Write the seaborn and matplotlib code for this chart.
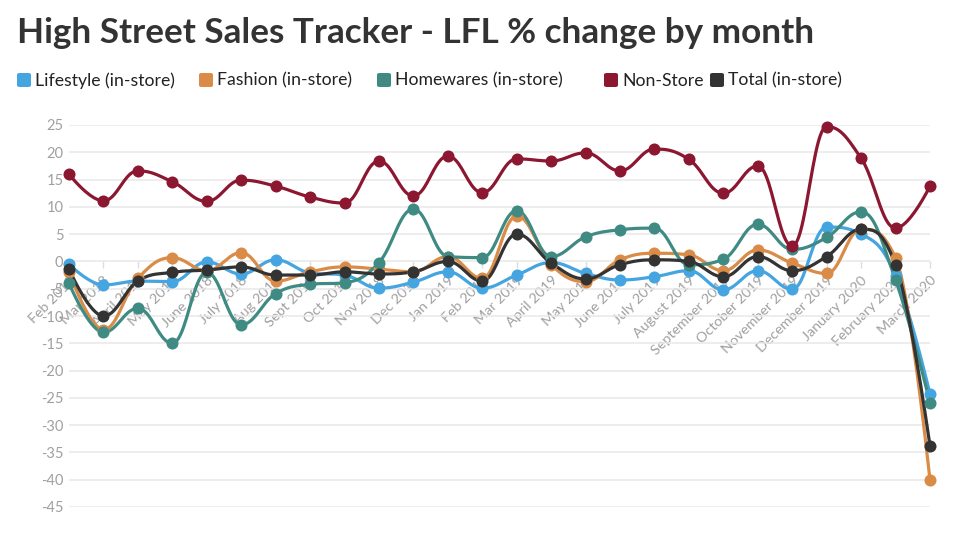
import numpy as np
import pandas as pd
import matplotlib
matplotlib.use("Agg")
import matplotlib.pyplot as plt
import seaborn as sns
from matplotlib.patches import FancyBboxPatch

months = ["Feb 2018", "Mar 2018", "April 2018", "May 2018", "June 2018", "July 2018",
          "Aug 2018", "Sept 2018", "Oct 2018", "Nov 2018", "Dec 2018", "Jan 2019",
          "Feb 2019", "Mar 2019", "April 2019", "May 2019", "June 2019", "July 2019",
          "August 2019", "September 2019", "October 2019", "November 2019",
          "December 2019", "January 2020", "February 2020", "March 2020"]

lifestyle = [-0.5, -4.3, -3.6, -3.7, -0.1, -2.3, 0.3, -2.1, -2.5, -4.9, -3.8, -1.9, -4.9,
             -2.5, -0.2, -2.2, -3.4, -2.8, -1.7, -5.2, -1.7, -5.1, 6.3, 5.0, -2.6, -24.3]
fashion = [-1.9, -12.5, -3.1, 0.7, -1.7, 1.6, -3.6, -1.9, -1.0, -1.4, -1.9, 0.9, -3.1,
           8.3, -0.6, -3.7, 0.3, 1.5, 1.2, -1.7, 2.1, -0.3, -2.2, 5.9, 0.7, -40.1]
homewares = [-4.0, -13.0, -8.6, -15.0, -2.0, -11.6, -5.9, -4.2, -3.9, -0.2, 9.6, 0.9, 0.7,
             9.3, 0.9, 4.5, 5.8, 6.1, -0.6, 0.4, 6.8, 2.2, 4.4, 9.1, -3.4, -25.9]
non_store = [16.0, 11.1, 16.6, 14.6, 11.0, 14.9, 13.8, 11.8, 10.7, 18.4, 12.0, 19.3, 12.6,
             18.8, 18.4, 19.9, 16.6, 20.6, 18.7, 12.5, 17.5, 2.8, 24.7, 18.9, 6.1, 13.8]
total = [-1.4, -10.0, -3.6, -2.0, -1.6, -1.0, -2.5, -2.5, -1.9, -2.3, -1.9, 0.0, -3.6,
         5.0, -0.3, -3.2, -0.6, 0.3, 0.0, -2.8, 0.9, -1.7, 0.9, 5.9, -0.6, -33.8]

series_names = ["Lifestyle (in-store)", "Fashion (in-store)", "Homewares (in-store)",
                "Non-Store", "Total (in-store)"]
series_values = [lifestyle, fashion, homewares, non_store, total]
colors = ["#45a5e0", "#d98b47", "#3f8b84", "#8b1730", "#333333"]
y_ticks = list(range(-45, 30, 5))


def hc_spline(xs, ys, smoothing=1.5, n=24):
    """Highcharts-style spline through the given points."""
    N = len(xs)
    lcx, lcy = list(xs), list(ys)
    rcx, rcy = list(xs), list(ys)
    denom = smoothing + 1
    for i in range(1, N - 1):
        lx, ly = xs[i - 1], ys[i - 1]
        nx, ny = xs[i + 1], ys[i + 1]
        px, py = xs[i], ys[i]
        lX = (smoothing * px + lx) / denom
        lY = (smoothing * py + ly) / denom
        rX = (smoothing * px + nx) / denom
        rY = (smoothing * py + ny) / denom
        if rX != lX:
            corr = ((rY - lY) * (rX - px)) / (rX - lX) + py - rY
            lY += corr
            rY += corr
        if lY > ly and lY > py:
            lY = max(ly, py); rY = 2 * py - lY
        elif lY < ly and lY < py:
            lY = min(ly, py); rY = 2 * py - lY
        if rY > ny and rY > py:
            rY = max(ny, py); lY = 2 * py - rY
        elif rY < ny and rY < py:
            rY = min(ny, py); lY = 2 * py - rY
        lcx[i], lcy[i], rcx[i], rcy[i] = lX, lY, rX, rY
    t = np.linspace(0, 1, n)[:, None]
    out = [np.array([[xs[0], ys[0]]])]
    for i in range(1, N):
        P0 = np.array([xs[i - 1], ys[i - 1]])
        P1 = np.array([rcx[i - 1], rcy[i - 1]])
        P2 = np.array([lcx[i], lcy[i]])
        P3 = np.array([xs[i], ys[i]])
        seg = ((1 - t) ** 3) * P0 + 3 * ((1 - t) ** 2) * t * P1 + 3 * (1 - t) * t ** 2 * P2 + t ** 3 * P3
        out.append(seg[1:])
    pts = np.vstack(out)
    return pts[:, 0], pts[:, 1]


sns.set_theme(style="white")
plt.rcParams["font.family"] = ["Lato", "DejaVu Sans"]

fig = plt.figure(figsize=(9.59, 5.36), dpi=100)
W, H = 959, 536
ax = fig.add_axes([69 / W, 1 - 507 / H, 861 / W, 382 / H])

x_idx = np.arange(len(months))
for name, vals, col in zip(series_names, series_values, colors):
    sx, sy = hc_spline(list(x_idx.astype(float)), list(vals))
    smooth = pd.DataFrame({"x": sx, "y": sy})
    sns.lineplot(data=smooth, x="x", y="y", sort=False, color=col, linewidth=2.3,
                 ax=ax, zorder=3, clip_on=False)
    pts = pd.DataFrame({"x": x_idx, "y": vals})
    sns.scatterplot(data=pts, x="x", y="y", color=col, s=75, linewidth=0,
                    ax=ax, zorder=4, clip_on=False)

ax.set_xlim(0, 25)
ax.set_ylim(-45, 25)
ax.set_yticks(y_ticks)
ax.set_yticklabels([str(v) for v in y_ticks])
ax.set_xticks(x_idx)
ax.set_xticklabels(months)
ax.set_xlabel("")
ax.set_ylabel("")
ax.set_axisbelow(True)
ax.grid(axis="y", color="#e8e8e8", linewidth=1.1)
ax.grid(axis="x", visible=False)
for s in ["top", "right", "left"]:
    ax.spines[s].set_visible(False)
ax.spines["bottom"].set_position(("data", 0))
ax.spines["bottom"].set_visible(False)
ax.xaxis.set_ticks_position("bottom")
ax.tick_params(axis="y", length=0, pad=4, labelsize=10.5, labelcolor="#a0a0a0")
ax.tick_params(axis="x", length=5, width=1, color="#dddddd", direction="out", pad=4,
               labelsize=10.3, labelcolor="#a0a0a0", labelrotation=45)
for lab in ax.get_xticklabels():
    lab.set_horizontalalignment("right")
    lab.set_verticalalignment("top")
    lab.set_rotation_mode("anchor")

# Title
fig.text(17 / W, 1 - 33 / H, "High Street Sales Tracker - LFL % change by month",
         fontsize=25.3, fontweight="bold", color="#333333", va="center", ha="left")

# Legend
leg_sq_x = [17, 199, 377, 604, 710]
for name, col, lx in zip(series_names, colors, leg_sq_x):
    fig.patches.append(FancyBboxPatch(((lx) / W, 1 - 87 / H), 14 / W, 14 / H,
                                      boxstyle="round,pad=0,rounding_size=0.003",
                                      transform=fig.transFigure, facecolor=col,
                                      edgecolor="none"))
    fig.text((lx + 18) / W, 1 - 80.5 / H, name, fontsize=12.7, color="#222222",
             va="center", ha="left")

fig.savefig("out.png", dpi=100)
